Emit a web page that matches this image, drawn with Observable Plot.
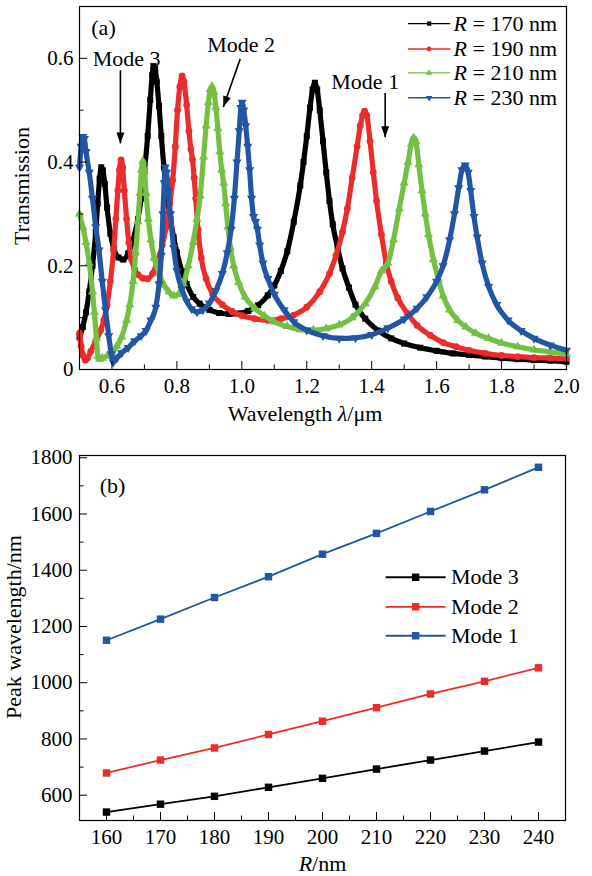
<!DOCTYPE html>
<html><head><meta charset="utf-8">
<script src="https://cdn.jsdelivr.net/npm/d3@7"></script>
<script src="https://cdn.jsdelivr.net/npm/@observablehq/plot@0.6"></script>
<style>
body{margin:0;background:#fff;}
#chart{width:592px;}
#chart svg{display:block;}
#chart svg text, #chart svg tspan{font-family:"Liberation Serif", serif !important;}
</style></head><body><div id="chart"></div>
<script>
// ---------- Panel (a) data: transmission spectra (wavelength µm, transmission) ----------
const seriesNames = ["R = 170 nm", "R = 190 nm", "R = 210 nm", "R = 230 nm"];
const seriesColors = ["#000000", "#EC2B2B", "#75BF43", "#2256A5"];
const seriesSymbols = ["square", "circle", "triangle", "triangle"];
const seriesRotate = [0, 0, 0, 180];

const curve170 = [[0.500,0.062],[0.510,0.082],[0.520,0.110],[0.530,0.150],[0.540,0.200],[0.550,0.265],[0.556,0.320],[0.562,0.368],[0.567,0.390],[0.572,0.384],[0.578,0.358],[0.585,0.312],[0.595,0.262],[0.605,0.235],[0.620,0.216],[0.635,0.212],[0.650,0.224],[0.665,0.250],[0.680,0.290],[0.690,0.330],[0.700,0.382],[0.710,0.450],[0.718,0.520],[0.724,0.568],[0.728,0.585],[0.733,0.580],[0.738,0.555],[0.745,0.508],[0.752,0.450],[0.760,0.390],[0.770,0.332],[0.780,0.290],[0.790,0.255],[0.800,0.226],[0.815,0.190],[0.830,0.165],[0.850,0.140],[0.870,0.127],[0.900,0.115],[0.930,0.109],[0.960,0.107],[0.990,0.108],[1.020,0.113],[1.050,0.124],[1.080,0.143],[1.100,0.162],[1.120,0.190],[1.140,0.228],[1.160,0.285],[1.180,0.355],[1.190,0.400],[1.200,0.450],[1.210,0.505],[1.218,0.540],[1.225,0.553],[1.232,0.540],[1.240,0.500],[1.250,0.440],[1.260,0.380],[1.270,0.325],[1.280,0.280],[1.295,0.235],[1.310,0.195],[1.330,0.158],[1.350,0.125],[1.380,0.098],[1.420,0.075],[1.460,0.060],[1.500,0.050],[1.550,0.042],[1.600,0.036],[1.650,0.031],[1.700,0.028],[1.750,0.025],[1.800,0.022],[1.850,0.020],[1.900,0.018],[1.950,0.017],[2.000,0.015]];

const curve190 = [[0.500,0.070],[0.505,0.045],[0.510,0.028],[0.518,0.018],[0.525,0.022],[0.535,0.035],[0.550,0.055],[0.565,0.075],[0.575,0.095],[0.585,0.125],[0.595,0.170],[0.605,0.230],[0.612,0.290],[0.618,0.345],[0.623,0.385],[0.628,0.404],[0.633,0.390],[0.638,0.345],[0.645,0.290],[0.652,0.245],[0.660,0.213],[0.670,0.193],[0.680,0.183],[0.695,0.176],[0.710,0.175],[0.725,0.185],[0.740,0.208],[0.755,0.240],[0.767,0.275],[0.778,0.320],[0.787,0.365],[0.795,0.430],[0.802,0.500],[0.809,0.545],[0.816,0.566],[0.822,0.555],[0.830,0.510],[0.837,0.460],[0.843,0.425],[0.848,0.405],[0.853,0.370],[0.858,0.330],[0.865,0.270],[0.875,0.215],[0.890,0.175],[0.910,0.145],[0.940,0.125],[0.970,0.112],[1.000,0.104],[1.040,0.098],[1.080,0.095],[1.120,0.098],[1.160,0.105],[1.200,0.120],[1.240,0.150],[1.270,0.185],[1.290,0.220],[1.310,0.265],[1.325,0.310],[1.340,0.370],[1.355,0.430],[1.365,0.470],[1.372,0.490],[1.378,0.498],[1.385,0.490],[1.395,0.440],[1.405,0.380],[1.415,0.325],[1.430,0.260],[1.445,0.205],[1.460,0.170],[1.480,0.138],[1.510,0.108],[1.540,0.085],[1.580,0.066],[1.620,0.052],[1.660,0.044],[1.700,0.037],[1.750,0.031],[1.800,0.027],[1.850,0.025],[1.900,0.023],[1.950,0.022],[2.000,0.021]];

const curve210 = [[0.500,0.300],[0.510,0.275],[0.520,0.245],[0.530,0.205],[0.540,0.150],[0.546,0.110],[0.552,0.060],[0.557,0.025],[0.562,0.020],[0.570,0.022],[0.585,0.026],[0.600,0.032],[0.615,0.045],[0.630,0.063],[0.645,0.095],[0.655,0.125],[0.665,0.170],[0.673,0.225],[0.680,0.285],[0.686,0.340],[0.691,0.385],[0.695,0.402],[0.700,0.385],[0.705,0.340],[0.712,0.290],[0.720,0.250],[0.730,0.215],[0.745,0.185],[0.760,0.163],[0.775,0.150],[0.790,0.142],[0.805,0.145],[0.820,0.165],[0.835,0.200],[0.850,0.245],[0.862,0.290],[0.872,0.335],[0.882,0.410],[0.890,0.470],[0.897,0.515],[0.903,0.540],[0.908,0.546],[0.914,0.535],[0.920,0.505],[0.926,0.465],[0.932,0.420],[0.938,0.385],[0.944,0.360],[0.950,0.320],[0.957,0.275],[0.965,0.235],[0.975,0.200],[0.990,0.168],[1.010,0.140],[1.040,0.118],[1.070,0.103],[1.100,0.092],[1.140,0.083],[1.180,0.077],[1.220,0.076],[1.260,0.079],[1.300,0.086],[1.340,0.100],[1.380,0.127],[1.410,0.160],[1.430,0.190],[1.450,0.205],[1.467,0.250],[1.485,0.310],[1.500,0.360],[1.512,0.400],[1.522,0.435],[1.529,0.447],[1.536,0.440],[1.545,0.395],[1.555,0.345],[1.565,0.300],[1.575,0.260],[1.590,0.212],[1.605,0.175],[1.620,0.142],[1.640,0.115],[1.665,0.095],[1.690,0.082],[1.720,0.070],[1.760,0.060],[1.800,0.051],[1.850,0.044],[1.900,0.038],[1.950,0.034],[2.000,0.030]];

const curve230 = [[0.500,0.390],[0.505,0.430],[0.510,0.449],[0.515,0.445],[0.520,0.420],[0.530,0.380],[0.540,0.330],[0.550,0.275],[0.560,0.230],[0.570,0.170],[0.580,0.115],[0.590,0.065],[0.598,0.030],[0.604,0.014],[0.615,0.022],[0.630,0.032],[0.650,0.042],[0.670,0.055],[0.690,0.065],[0.705,0.075],[0.720,0.095],[0.735,0.120],[0.745,0.165],[0.752,0.220],[0.757,0.300],[0.761,0.360],[0.764,0.390],[0.768,0.380],[0.773,0.345],[0.780,0.300],[0.790,0.235],[0.800,0.190],[0.815,0.155],[0.830,0.132],[0.845,0.117],[0.862,0.111],[0.880,0.115],[0.900,0.128],[0.920,0.152],[0.940,0.185],[0.955,0.225],[0.967,0.270],[0.977,0.330],[0.985,0.400],[0.992,0.460],[0.997,0.505],[1.001,0.515],[1.006,0.500],[1.012,0.470],[1.018,0.430],[1.024,0.385],[1.030,0.330],[1.036,0.295],[1.042,0.285],[1.048,0.270],[1.055,0.240],[1.065,0.205],[1.080,0.175],[1.100,0.145],[1.130,0.115],[1.160,0.092],[1.200,0.076],[1.250,0.065],[1.300,0.060],[1.350,0.061],[1.400,0.067],[1.450,0.080],[1.500,0.097],[1.540,0.118],[1.570,0.140],[1.600,0.170],[1.620,0.200],[1.640,0.250],[1.655,0.300],[1.668,0.350],[1.678,0.385],[1.688,0.394],[1.697,0.380],[1.705,0.345],[1.715,0.295],[1.725,0.255],[1.740,0.205],[1.760,0.160],[1.785,0.125],[1.820,0.095],[1.860,0.075],[1.900,0.060],[1.950,0.047],[2.000,0.037]];

const curvesA = [curve170, curve190, curve210, curve230];

const xTicksA = [0.6, 0.8, 1.0, 1.2, 1.4, 1.6, 1.8, 2.0];
const xMinorA = [0.7, 0.9, 1.1, 1.3, 1.5, 1.7, 1.9];
const yTicksA = [0, 0.2, 0.4, 0.6];
const yMinorA = [0.1, 0.3, 0.5];

// annotations (data coordinates)
const modeLabels = ["Mode 3", "Mode 2", "Mode 1"];
const modeLabelX = [0.645, 0.998, 1.380];
const modeLabelY = [0.599, 0.626, 0.555];
const arrowX1 = [0.626, 0.995, 1.4415];
const arrowY1 = [0.577, 0.599, 0.533];
const arrowX2 = [0.626, 0.943, 1.4415];
const arrowY2 = [0.436, 0.506, 0.448];
const arrowRot = [0, 19.5, 0];

// legend (a) placement in data coordinates
const legendAX1 = 1.512, legendAX2 = 1.642, legendATextX = 1.652;
const legendAY = [0.667, 0.618, 0.572, 0.524];

// ---------- Panel (b) data ----------
const radii = [160, 170, 180, 190, 200, 210, 220, 230, 240];
const mode1 = [1151, 1226, 1303, 1377, 1457, 1531, 1609, 1686, 1766];
const mode2 = [679, 725, 768, 816, 863, 911, 960, 1005, 1053];
const mode3 = [540, 568, 596, 628, 660, 693, 725, 757, 789];
const modeNames = ["Mode 3", "Mode 2", "Mode 1"];
const modeColors = ["#000000", "#EC2B2B", "#2256A5"];
const modeValues = [mode3, mode2, mode1];

const xTicksB = [160, 170, 180, 190, 200, 210, 220, 230, 240];
const xMinorB = [165, 175, 185, 195, 205, 215, 225, 235];
const yTicksB = [600, 800, 1000, 1200, 1400, 1600, 1800];
const yMinorB = [700, 900, 1100, 1300, 1500, 1700];

const legendBX1 = 211.7, legendBX2 = 222.8, legendBTextX = 223.8;
const legendBY = [1375, 1270, 1167];

// ---------- drawing ----------
const FONT = "Liberation Serif, serif";
const FS = 22;   // words
const FT = 21;   // tick numbers
const arrowHead = {draw(ctx) { ctx.moveTo(0, 0); ctx.lineTo(-4, -11); ctx.lineTo(4, -11); ctx.closePath(); }};

function inwardTicks(xMajor, xMinor, yMajor, yMinor, plotW, plotH) {
  return [
    Plot.tickX(xMajor, {x: d => d, insetTop: plotH - 8, stroke: "#000", strokeWidth: 1}),
    Plot.tickX(xMinor, {x: d => d, insetTop: plotH - 4.5, stroke: "#000", strokeWidth: 1}),
    Plot.tickY(yMajor, {y: d => d, insetRight: plotW - 8, stroke: "#000", strokeWidth: 1}),
    Plot.tickY(yMinor, {y: d => d, insetRight: plotW - 4.5, stroke: "#000", strokeWidth: 1})
  ];
}
const txt = (o) => ({fontSize: FS, fontFamily: FONT, fill: "#000", lineAnchor: "middle", ...o});

const W = 592;
// Panel (a)
const aH = 430, aT = 6, aB = 61, aL = 79, aR = 26;
const curveMarks = [];
curvesA.forEach((c, i) => {
  curveMarks.push(Plot.line(c, {x: d => d[0], y: d => d[1], stroke: seriesColors[i], strokeWidth: 5.2, curve: "monotone-x"}));
  curveMarks.push(Plot.dot(c, {x: d => d[0], y: d => d[1], symbol: seriesSymbols[i], r: 3.4, fill: seriesColors[i], rotate: seriesRotate[i]}));
});
const legendAMarks = [];
seriesNames.forEach((n, i) => {
  legendAMarks.push(Plot.link([0], {x1: () => legendAX1, x2: () => legendAX2, y1: () => legendAY[i], y2: () => legendAY[i], stroke: seriesColors[i], strokeWidth: 1.4}));
  legendAMarks.push(Plot.dot([0], {x: () => (legendAX1 + legendAX2) / 2, y: () => legendAY[i], symbol: seriesSymbols[i], r: 2.4, fill: seriesColors[i], rotate: seriesRotate[i]}));
  legendAMarks.push(Plot.text([n], txt({x: () => legendATextX, y: () => legendAY[i], text: d => d, textAnchor: "start"})));
});

const chartA = Plot.plot({
  width: W, height: aH, marginTop: aT, marginBottom: aB, marginLeft: aL, marginRight: aR,
  style: {fontFamily: FONT, fontSize: FS + "px", color: "#000", background: "#fff", overflow: "visible"},
  x: {domain: [0.5, 2.0]},
  y: {domain: [0, 0.7]},
  marks: [
    ...curveMarks,
    Plot.link(modeLabels, {x1: (d, i) => arrowX1[i], y1: (d, i) => arrowY1[i], x2: (d, i) => arrowX2[i], y2: (d, i) => arrowY2[i], stroke: "#000", strokeWidth: 1.6}),
    Plot.dot(modeLabels, {x: (d, i) => arrowX2[i], y: (d, i) => arrowY2[i], symbol: arrowHead, fill: "#000", rotate: (d, i) => arrowRot[i]}),
    Plot.text(modeLabels, txt({x: (d, i) => modeLabelX[i], y: (d, i) => modeLabelY[i], text: d => d})),
    ...legendAMarks,
    Plot.text(["(a)"], txt({frameAnchor: "top-left", textAnchor: "middle", dx: 24, dy: 21, text: d => d})),
    Plot.frame({stroke: "#000", strokeWidth: 1.2}),
    ...inwardTicks(xTicksA, xMinorA, yTicksA, yMinorA, W - aL - aR, aH - aT - aB),
    Plot.axisX(xTicksA, {tickSize: 0, tickPadding: 9, tickFormat: d => d.toFixed(1), label: null, fontSize: FT, fontFamily: FONT}),
    Plot.axisY(yTicksA, {tickSize: 0, tickPadding: 6, tickFormat: d => d === 0 ? "0" : d.toFixed(1), label: null, fontSize: FT, fontFamily: FONT}),
    Plot.text(["Wavelength λ/μm"], txt({frameAnchor: "bottom", textAnchor: "middle", dx: -18, dy: 44, text: d => d})),
    Plot.text(["Transmission"], txt({frameAnchor: "left", textAnchor: "middle", dx: -58, dy: -2, rotate: -90, text: d => d}))
  ]
});

// Panel (b)
const bH = 446, bT = 25, bB = 56, bL = 79, bR = 27;
const modeMarks = [];
modeValues.forEach((vals, i) => {
  modeMarks.push(Plot.line(radii, {x: d => d, y: (d, j) => vals[j], stroke: modeColors[i], strokeWidth: 1.8}));
  modeMarks.push(Plot.dot(radii, {x: d => d, y: (d, j) => vals[j], symbol: "square", r: 4.2, fill: modeColors[i]}));
});
const legendBMarks = [];
modeNames.forEach((n, i) => {
  legendBMarks.push(Plot.link([0], {x1: () => legendBX1, x2: () => legendBX2, y1: () => legendBY[i], y2: () => legendBY[i], stroke: modeColors[i], strokeWidth: 1.8}));
  legendBMarks.push(Plot.dot([0], {x: () => (legendBX1 + legendBX2) / 2, y: () => legendBY[i], symbol: "square", r: 4.2, fill: modeColors[i]}));
  legendBMarks.push(Plot.text([n], txt({x: () => legendBTextX, y: () => legendBY[i], text: d => d, textAnchor: "start"})));
});

const chartB = Plot.plot({
  width: W, height: bH, marginTop: bT, marginBottom: bB, marginLeft: bL, marginRight: bR,
  style: {fontFamily: FONT, fontSize: FS + "px", color: "#000", background: "#fff", overflow: "visible"},
  x: {domain: [155, 245]},
  y: {domain: [510, 1808]},
  marks: [
    ...modeMarks,
    ...legendBMarks,
    Plot.text(["(b)"], txt({frameAnchor: "top-left", textAnchor: "middle", dx: 33, dy: 30, text: d => d})),
    Plot.frame({stroke: "#000", strokeWidth: 1.2}),
    ...inwardTicks(xTicksB, xMinorB, yTicksB, yMinorB, W - bL - bR, bH - bT - bB),
    Plot.axisX(xTicksB, {tickSize: 0, tickPadding: 9, tickFormat: d => String(d), label: null, fontSize: FT, fontFamily: FONT}),
    Plot.axisY(yTicksB, {tickSize: 0, tickPadding: 7, tickFormat: d => String(d), label: null, fontSize: FT, fontFamily: FONT}),
    Plot.text(["R/nm"], txt({frameAnchor: "bottom", textAnchor: "middle", dy: 43, text: d => d})),
    Plot.text(["Peak wavelength/nm"], txt({frameAnchor: "left", textAnchor: "middle", dx: -66, dy: -11, rotate: -90, text: d => d}))
  ]
});

// italic math symbols inside texts
function italicize(svg) {
  svg.querySelectorAll("text").forEach(t => {
    const s = t.textContent;
    let parts = null;
    if (/^R = /.test(s)) parts = [["R", true], [s.slice(1), false]];
    else if (s === "R/nm") parts = [["R", true], ["/nm", false]];
    else if (s === "Wavelength λ/μm") parts = [["Wavelength ", false], ["λ", true], ["/μm", false]];
    if (!parts) return;
    t.textContent = "";
    parts.forEach(([tx, it]) => {
      const ts = document.createElementNS("http://www.w3.org/2000/svg", "tspan");
      ts.textContent = tx;
      if (it) ts.setAttribute("font-style", "italic");
      t.appendChild(ts);
    });
  });
}
italicize(chartA);
italicize(chartB);

document.getElementById("chart").append(chartA, chartB);
</script>
</body></html>
